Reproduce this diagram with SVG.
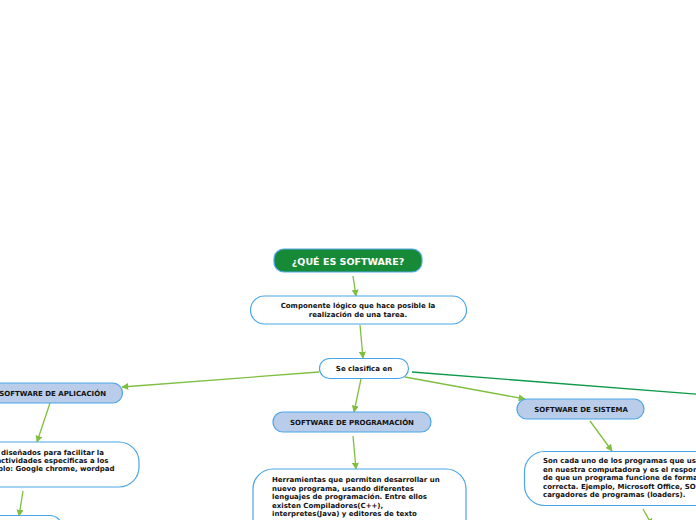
<svg xmlns="http://www.w3.org/2000/svg" width="696" height="520" viewBox="0 0 696 520">
<style>
  .box { fill: #ffffff; stroke: #4aa6e8; stroke-width: 1.2; }
  .cat { fill: #b9cdea; stroke: #4aa6e8; stroke-width: 1.2; }
  .t { font-family: "DejaVu Sans", Verdana, sans-serif; font-weight: bold; font-size: 7px; fill: #111111; }
  .title { font-family: "DejaVu Sans", Verdana, sans-serif; font-weight: bold; font-size: 9.5px; fill: #ffffff; }
  .c { fill: none; stroke: #7fbf3f; stroke-width: 1.3; }
  .cd { fill: none; stroke: #0b9a48; stroke-width: 1.3; }
</style>
<defs>
  <marker id="arr" viewBox="0 0 10 10" refX="9" refY="5" markerWidth="7" markerHeight="7" markerUnits="userSpaceOnUse" orient="auto">
    <path d="M0,0 L10,5 L0,10 z" fill="#7fbf3f"/>
  </marker>
</defs>
<rect width="696" height="520" fill="#ffffff"/>
<g id="connectors">
  <line class="c" x1="353" y1="276" x2="356" y2="296" marker-end="url(#arr)"/>
  <line class="c" x1="360" y1="325" x2="363" y2="358" marker-end="url(#arr)"/>
  <line class="c" x1="319" y1="372" x2="122" y2="387" marker-end="url(#arr)"/>
  <line class="c" x1="361" y1="379" x2="354" y2="412" marker-end="url(#arr)"/>
  <line class="c" x1="405" y1="377" x2="525" y2="399" marker-end="url(#arr)"/>
  <line class="cd" x1="412" y1="372" x2="700" y2="394.5"/>
  <line class="c" x1="50" y1="403" x2="37" y2="442" marker-end="url(#arr)"/>
  <line class="c" x1="23" y1="491" x2="19" y2="516" marker-end="url(#arr)"/>
  <line class="c" x1="353" y1="436" x2="356" y2="469" marker-end="url(#arr)"/>
  <line class="c" x1="590" y1="421" x2="612" y2="451" marker-end="url(#arr)"/>
  <line class="c" x1="643" y1="509" x2="652" y2="525" marker-end="url(#arr)"/>
</g>
<g id="n-title">
  <rect x="274" y="249" width="148" height="23" rx="10" fill="#178a38" stroke="#52a8e8" stroke-width="1.2"/>
  <text class="title" x="348" y="265" text-anchor="middle">¿QUÉ ES SOFTWARE?</text>
</g>
<g id="n-componente">
  <rect class="box" x="250.5" y="296" width="216" height="28" rx="14"/>
  <text class="t" x="358" y="308" text-anchor="middle">Componente lógico que hace posible la</text>
  <text class="t" x="358" y="316.5" text-anchor="middle">realización de una tarea.</text>
</g>
<g id="n-clasifica">
  <rect class="box" x="319.5" y="358.5" width="89" height="20" rx="10"/>
  <text class="t" x="364" y="371" text-anchor="middle">Se clasifica en</text>
</g>
<g id="n-aplicacion">
  <rect class="cat" x="-20" y="383" width="142.5" height="20" rx="10"/>
  <text class="t" x="106" y="396" text-anchor="end">SOFTWARE DE APLICACIÓN</text>
</g>
<g id="n-programacion">
  <rect class="cat" x="273" y="412" width="158" height="20" rx="10"/>
  <text class="t" x="352" y="424.5" text-anchor="middle">SOFTWARE DE PROGRAMACIÓN</text>
</g>
<g id="n-sistema">
  <rect class="cat" x="517" y="399" width="127" height="20" rx="10"/>
  <text class="t" x="581" y="411.5" text-anchor="middle">SOFTWARE DE SISTEMA</text>
</g>
<g id="n-aplicacion-desc">
  <rect class="box" x="-120" y="442" width="259" height="45" rx="20"/>
  <text class="t" x="104" y="454.5" text-anchor="end">diseñados para facilitar la</text>
  <text class="t" x="108.5" y="462.5" text-anchor="end">actividades especificas a los</text>
  <text class="t" x="114.5" y="470.5" text-anchor="end">plo: Google chrome, wordpad</text>
</g>
<g id="n-aplicacion-next">
  <rect class="box" x="-50" y="515.5" width="112" height="40" rx="12"/>
</g>
<g id="n-programacion-desc">
  <rect class="box" x="253" y="469" width="213" height="70" rx="20"/>
  <text class="t" x="272" y="482">Herramientas que permiten desarrollar un</text>
  <text class="t" x="272" y="490.5">nuevo programa, usando diferentes</text>
  <text class="t" x="272" y="499">lenguajes de programación. Entre ellos</text>
  <text class="t" x="272" y="507.5">existen Compiladores(C++),</text>
  <text class="t" x="272" y="516">interpretes(Java) y editores de texto</text>
</g>
<g id="n-sistema-desc">
  <rect class="box" x="524.5" y="451.5" width="220" height="54" rx="20"/>
  <text class="t" x="543" y="463">Son cada uno de los programas que us</text>
  <text class="t" x="543" y="471.5">en nuestra computadora y es el respon</text>
  <text class="t" x="543" y="480">de que un programa funcione de forma</text>
  <text class="t" x="543" y="488.5">correcta. Ejemplo, Microsoft Office, SO</text>
  <text class="t" x="543" y="497">cargadores de programas (loaders).</text>
</g>
</svg>
